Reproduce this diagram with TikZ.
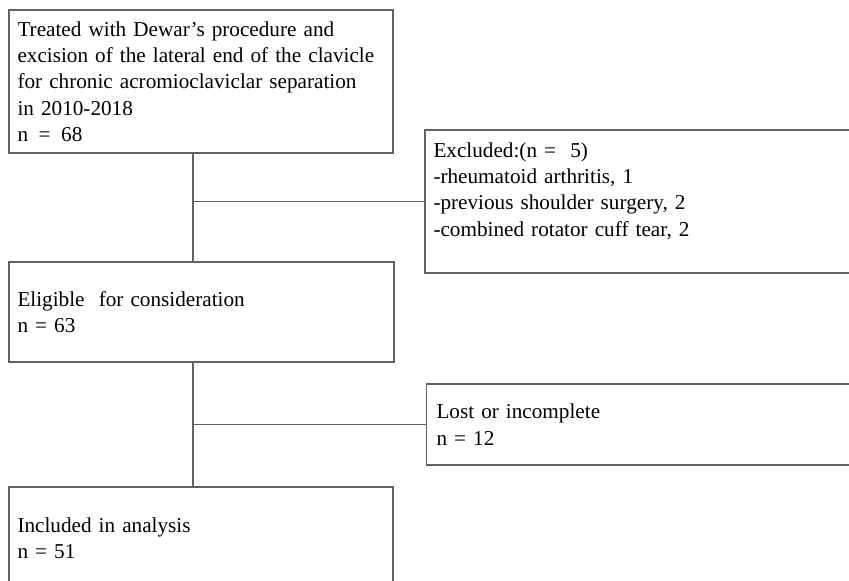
\documentclass[tikz,border=0pt]{standalone}
\usepackage{fontspec}
\setmainfont{Liberation Serif}
\usepackage{tikz}
\usetikzlibrary{positioning}

\tikzset{
    box/.style={draw=black!62, line width=1.2pt, inner xsep=8.5pt, align=left,
        font=\fontsize{21.2}{26.3}\selectfont},
    link/.style={draw=black!62, line width=1.2pt}
}

\begin{document}
\begin{tikzpicture}[x=1pt, y=-1pt]
    \useasboundingbox (0,0) rectangle (849,581);

    % Main boxes
    \node[box, minimum width=384pt, minimum height=143pt, text width=367pt] (treated) at (201,81.5)
        {Treated with Dewar's procedure and\\excision of the lateral end of the clavicle\\for chronic acromioclaviclar separation\\in 2010-2018\\n\,\ =\,\ 68};
    \node[box, minimum width=385pt, minimum height=100pt, text width=368pt] (eligible) at (201.5,312)
        {Eligible\ \ for consideration\\n = 63};
    \node[box, minimum width=384pt, minimum height=103pt, text width=367pt] (included) at (201,538.5)
        {Included in analysis\\n = 51};

    % Side boxes
    \node[box, minimum width=440pt, minimum height=143pt, text width=423pt, text depth=103pt] (excluded) at (645,201.5)
        {Excluded:(n =\ \ 5)\\-rheumatoid arthritis, 1\\-previous shoulder surgery, 2\\-combined rotator cuff tear, 2};
    \node[box, minimum width=438pt, minimum height=81pt, text width=419pt, inner xsep=10pt] (lost) at (646,424.5)
        {Lost or incomplete\\n = 12};

    % Connectors
    \coordinate (trunk) at (193,0);
    \draw[link] (treated.south -| trunk) -- (eligible.north -| trunk);
    \draw[link] (eligible.south -| trunk) -- (included.north -| trunk);
    \draw[link] (excluded.west -| trunk) -- (excluded.west);
    \draw[link] (lost.west -| trunk) -- (lost.west);
\end{tikzpicture}
\end{document}
